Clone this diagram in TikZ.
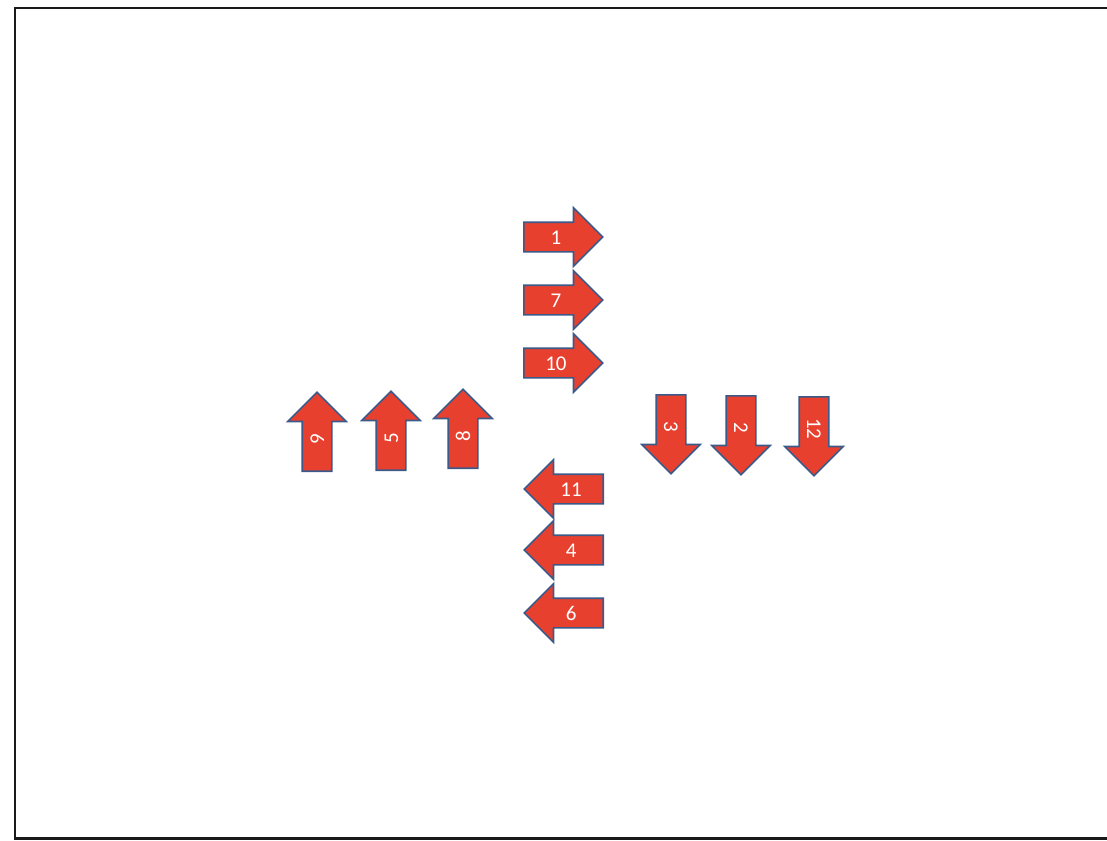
\documentclass[tikz,border=0pt]{standalone}
\usepackage{fontspec}
\setmainfont{Carlito}
\usepackage{tikz}
\usetikzlibrary{shapes.arrows}
\definecolor{arrred}{HTML}{E8402F}
\definecolor{arrblue}{HTML}{3B5A8A}
\definecolor{frameblk}{HTML}{1A1A1A}
\tikzset{
  redarrow/.style = {single arrow, draw=arrblue, fill=arrred, line width=0.8pt,
                     text=white, font=\fontsize{10.5}{12}\selectfont,
                     text height=7pt, text depth=0pt, inner xsep=1pt, inner ysep=3.5pt,
                     minimum height=39.5pt, single arrow head extend=7.25pt,
                     single arrow tip angle=90, anchor=tail},
  toright/.style  = {redarrow},
  toleft/.style   = {redarrow, shape border rotate=180},
  toup/.style     = {redarrow, rotate=90},
  todown/.style   = {redarrow, rotate=-90},
}

\begin{document}
\begin{tikzpicture}[x=0.5pt, y=-0.5pt]
  \useasboundingbox (0,0) rectangle (1107,840);
  \draw[draw=frameblk, line width=1.1pt] (1107,8) -- (15,8) -- (15,838.5) -- (1107,838.5);
  % tails of the arrows
  \coordinate (T1) at (523,237);
  \coordinate (T7) at (523,300);
  \coordinate (T10) at (523,363);
  \coordinate (T11) at (604,489);
  \coordinate (T4) at (604,550);
  \coordinate (T6) at (604,613);
  \coordinate (T9) at (317,472);
  \coordinate (T5) at (391,471);
  \coordinate (T8) at (463,469);
  \coordinate (T3) at (671,394);
  \coordinate (T2) at (741,395);
  \coordinate (T12) at (814,396);
  \node[toright] (a1) at (T1) {1};
  \node[toright] (a7) at (T7) {7};
  \node[toright] (a10) at (T10) {10};
  \node[toleft] (a11) at (T11) {11};
  \node[toleft] (a4) at (T4) {4};
  \node[toleft] (a6) at (T6) {6};
  \node[toup] (a9) at (T9) {9};
  \node[toup] (a5) at (T5) {5};
  \node[toup] (a8) at (T8) {8};
  \node[todown] (a3) at (T3) {3};
  \node[todown] (a2) at (T2) {2};
  \node[todown] (a12) at (T12) {12};
\end{tikzpicture}
\end{document}
